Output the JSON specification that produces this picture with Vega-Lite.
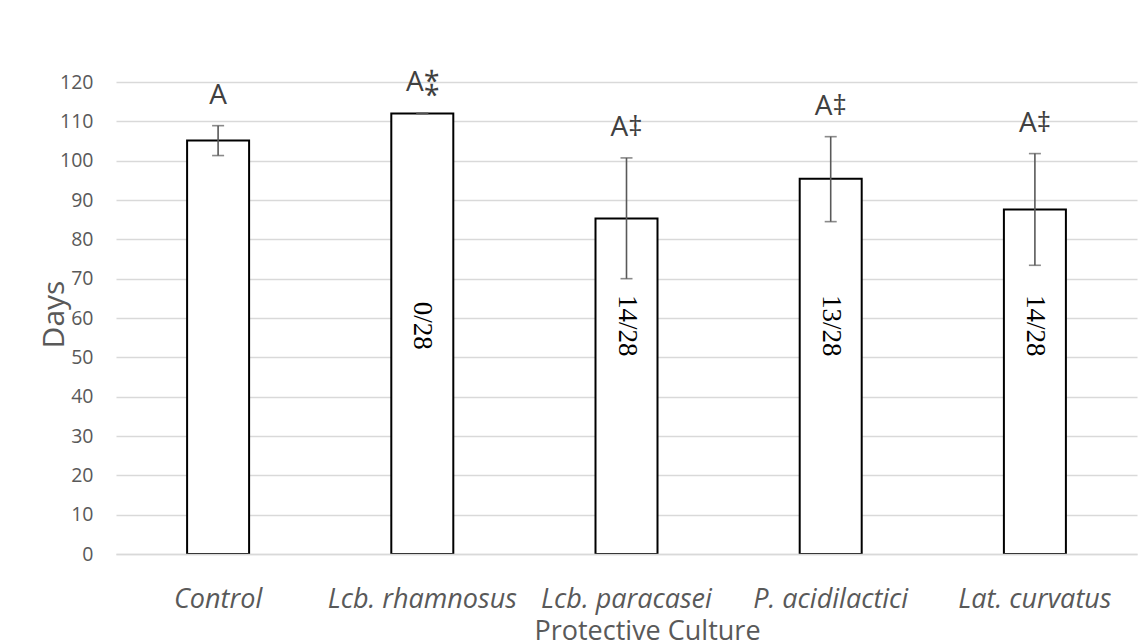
{
  "$schema": "https://vega.github.io/schema/vega-lite/v6.json",
  "autosize": "none",
  "width": 1021,
  "height": 472,
  "padding": {"left": 116, "top": 82, "right": 11, "bottom": 89},
  "background": "white",
  "config": {
    "view": {"stroke": null},
    "font": "Open Sans",
    "axisY": {
      "tickCount": 12,
      "labelOverlap": false,
      "labelFont": "Open Sans",
      "labelFontSize": 19.5,
      "labelColor": "#595959",
      "labelPadding": 23,
      "ticks": false,
      "domain": false,
      "gridColor": "#d9d9d9",
      "gridWidth": 1.3,
      "titleFont": "Open Sans",
      "titleFontSize": 30,
      "titleFontWeight": "normal",
      "titleColor": "#595959",
      "titleAngle": -90,
      "titleBaseline": "alphabetic",
      "titleX": -53,
      "titleY": 232
    }
  },
  "data": {
    "values": [
      {"culture": "Control", "days": 105.1, "lo": 101.3, "hi": 108.9, "sig": "A", "ratio": ""},
      {"culture": "Lcb. rhamnosus", "days": 112.0, "lo": 112.0, "hi": 112.0, "sig": "A⁑", "ratio": "0/28"},
      {"culture": "Lcb. paracasei", "days": 85.3, "lo": 70.0, "hi": 100.7, "sig": "A‡", "ratio": "14/28"},
      {"culture": "P. acidilactici", "days": 95.4, "lo": 84.5, "hi": 106.1, "sig": "A‡", "ratio": "13/28"},
      {"culture": "Lat. curvatus", "days": 87.6, "lo": 73.4, "hi": 101.8, "sig": "A‡", "ratio": "14/28"}
    ]
  },
  "encoding": {
    "x": {
      "field": "culture",
      "type": "nominal",
      "sort": null,
      "scale": {"paddingInner": 0, "paddingOuter": 0},
      "axis": {
        "title": "Protective Culture",
        "titleFont": "Open Sans",
        "titleFontSize": 27,
        "titleFontWeight": "normal",
        "titleColor": "#595959",
        "titleX": 531,
        "titleY": 85,
        "titleBaseline": "alphabetic",
        "labelAngle": 0,
        "labelFont": "Open Sans",
        "labelFontStyle": "italic",
        "labelFontSize": 27,
        "labelColor": "#595959",
        "labelBaseline": "alphabetic",
        "labelPadding": 53,
        "labelLimit": 0,
        "labelOverlap": false,
        "ticks": false,
        "domainColor": "#d9d9d9",
        "domainWidth": 1.3,
        "zindex": 1
      }
    }
  },
  "layer": [
    {
      "mark": {"type": "bar", "size": 62, "fill": "white", "stroke": "black", "strokeWidth": 2},
      "encoding": {
        "y": {
          "field": "days",
          "type": "quantitative",
          "scale": {"domain": [0, 120], "nice": false},
          "axis": {"title": "Days"}
        }
      }
    },
    {
      "mark": {"type": "rule", "color": "#595959", "strokeWidth": 1.6},
      "encoding": {
        "y": {"field": "lo", "type": "quantitative", "axis": {"title": "Days"}},
        "y2": {"field": "hi"}
      }
    },
    {
      "mark": {"type": "tick", "color": "#595959", "size": 12, "thickness": 1.6},
      "encoding": {"y": {"field": "lo", "type": "quantitative", "axis": {"title": "Days"}}}
    },
    {
      "mark": {"type": "tick", "color": "#595959", "size": 12, "thickness": 1.6},
      "encoding": {"y": {"field": "hi", "type": "quantitative", "axis": {"title": "Days"}}}
    },
    {
      "mark": {"type": "text", "font": "Open Sans", "fontSize": 28, "color": "#404040", "baseline": "alphabetic", "dy": -22},
      "encoding": {
        "y": {"field": "hi", "type": "quantitative", "axis": {"title": "Days"}},
        "text": {"field": "sig"}
      }
    },
    {
      "mark": {"type": "text", "font": "Liberation Serif", "fontSize": 27, "color": "black", "angle": 90, "baseline": "middle", "align": "center"},
      "encoding": {
        "y": {"datum": 58, "type": "quantitative", "axis": {"title": "Days"}},
        "text": {"field": "ratio"}
      }
    }
  ]
}
